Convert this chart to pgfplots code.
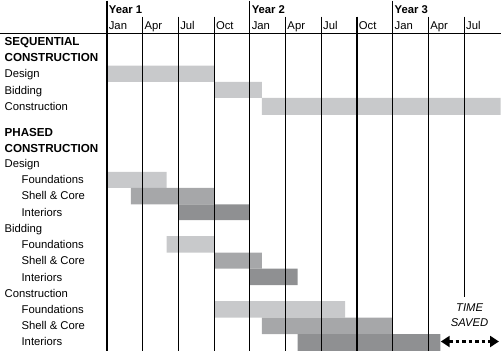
\documentclass[border=0pt]{standalone}
\usepackage{pgfplots}
\pgfplotsset{compat=1.18}
\usepackage{fontspec}
\setmainfont{Liberation Sans}
\usetikzlibrary{arrows.meta}
\definecolor{lightbar}{RGB}{200,201,203}
\definecolor{midbar}{RGB}{166,167,169}
\definecolor{darkbar}{RGB}{143,144,146}
\newcommand{\hd}[1]{{\fontsize{11.65}{13}\selectfont\bfseries #1}}
\begin{document}
\begin{tikzpicture}[every node/.style={font=\fontsize{11.3}{13}\selectfont, inner sep=0pt}]
\begin{axis}[
  scale only axis, width=501pt, height=351pt,
  xmin=-8.944, xmax=33.051, ymin=0, ymax=351, y dir=reverse,
  axis lines=none, ticks=none, clip=false,
]
% ---- bars (x in months from Jan Year 1; y in rows, top down) ----
% Sequential construction
\addplot[fill=lightbar, draw=none] coordinates {(0,65) (9,65) (9,81.5) (0,81.5) (0,65)};
\addplot[fill=lightbar, draw=none] coordinates {(9,81.5) (13,81.5) (13,97.5) (9,97.5) (9,81.5)};
\addplot[fill=lightbar, draw=none] coordinates {(13,97.5) (33.051,97.5) (33.051,114.5) (13,114.5) (13,97.5)};
% Phased: design
\addplot[fill=lightbar, draw=none] coordinates {(0,171.5) (5,171.5) (5,187.5) (0,187.5) (0,171.5)};
\addplot[fill=midbar, draw=none] coordinates {(2,187.5) (9,187.5) (9,204) (2,204) (2,187.5)};
\addplot[fill=darkbar, draw=none] coordinates {(6,204) (12,204) (12,220) (6,220) (6,204)};
% Phased: bidding
\addplot[fill=lightbar, draw=none] coordinates {(5,236) (9,236) (9,252.5) (5,252.5) (5,236)};
\addplot[fill=midbar, draw=none] coordinates {(9,252.5) (13,252.5) (13,268.5) (9,268.5) (9,252.5)};
\addplot[fill=darkbar, draw=none] coordinates {(12,268.5) (16,268.5) (16,285) (12,285) (12,268.5)};
% Phased: construction
\addplot[fill=lightbar, draw=none] coordinates {(9,301) (20,301) (20,317.5) (9,317.5) (9,301)};
\addplot[fill=midbar, draw=none] coordinates {(13,317.5) (24,317.5) (24,334) (13,334) (13,317.5)};
\addplot[fill=darkbar, draw=none] coordinates {(16,334) (28,334) (28,351) (16,351) (16,334)};

% ---- grid lines ----
\draw[line width=0.9pt] (axis cs:-8.944,33.3) -- (axis cs:33.051,33.3);
\pgfplotsinvokeforeach{0,12,24}{\draw[line width=1.25pt] (axis cs:#1,0) -- (axis cs:#1,351);}
\pgfplotsinvokeforeach{3,6,9,15,18,21,27}{\draw[line width=1.25pt] (axis cs:#1,16) -- (axis cs:#1,351);}
\draw[line width=1.25pt] (axis cs:30,16) -- (axis cs:30,297);

% ---- header ----
\node[anchor=base west, xshift=1.7pt] at (axis cs:0,13.3) {\bfseries Year 1};
\node[anchor=base west, xshift=1.7pt] at (axis cs:12,13.3) {\bfseries Year 2};
\node[anchor=base west, xshift=1.7pt] at (axis cs:24,13.3) {\bfseries Year 3};
\node[anchor=base west, xshift=1.7pt] at (axis cs:0,29.3) {Jan};
\node[anchor=base west, xshift=1.7pt] at (axis cs:3,29.3) {Apr};
\node[anchor=base west, xshift=1.7pt] at (axis cs:6,29.3) {Jul};
\node[anchor=base west, xshift=1.7pt] at (axis cs:9,29.3) {Oct};
\node[anchor=base west, xshift=1.7pt] at (axis cs:12,29.3) {Jan};
\node[anchor=base west, xshift=1.7pt] at (axis cs:15,29.3) {Apr};
\node[anchor=base west, xshift=1.7pt] at (axis cs:18,29.3) {Jul};
\node[anchor=base west, xshift=1.7pt] at (axis cs:21,29.3) {Oct};
\node[anchor=base west, xshift=1.7pt] at (axis cs:24,29.3) {Jan};
\node[anchor=base west, xshift=1.7pt] at (axis cs:27,29.3) {Apr};
\node[anchor=base west, xshift=1.7pt] at (axis cs:30,29.3) {Jul};

% ---- row labels ----
\node[anchor=base west, xshift=4pt] at (axis cs:-8.944,45) {\hd{SEQUENTIAL}};
\node[anchor=base west, xshift=4pt] at (axis cs:-8.944,61.2) {\hd{CONSTRUCTION}};
\node[anchor=base west, xshift=4pt] at (axis cs:-8.944,77.2) {Design};
\node[anchor=base west, xshift=4pt] at (axis cs:-8.944,93.6) {Bidding};
\node[anchor=base west, xshift=4pt] at (axis cs:-8.944,110) {Construction};
\node[anchor=base west, xshift=4pt] at (axis cs:-8.944,136) {\hd{PHASED}};
\node[anchor=base west, xshift=4pt] at (axis cs:-8.944,151.7) {\hd{CONSTRUCTION}};
\node[anchor=base west, xshift=4pt] at (axis cs:-8.944,167.3) {Design};
\node[anchor=base west, xshift=21pt] at (axis cs:-8.944,183.3) {Foundations};
\node[anchor=base west, xshift=21pt] at (axis cs:-8.944,199.7) {Shell \& Core};
\node[anchor=base west, xshift=21pt] at (axis cs:-8.944,215.8) {Interiors};
\node[anchor=base west, xshift=4pt] at (axis cs:-8.944,232) {Bidding};
\node[anchor=base west, xshift=21pt] at (axis cs:-8.944,248.3) {Foundations};
\node[anchor=base west, xshift=21pt] at (axis cs:-8.944,264.8) {Shell \& Core};
\node[anchor=base west, xshift=21pt] at (axis cs:-8.944,281) {Interiors};
\node[anchor=base west, xshift=4pt] at (axis cs:-8.944,297) {Construction};
\node[anchor=base west, xshift=21pt] at (axis cs:-8.944,313.3) {Foundations};
\node[anchor=base west, xshift=21pt] at (axis cs:-8.944,329.3) {Shell \& Core};
\node[anchor=base west, xshift=21pt] at (axis cs:-8.944,345.3) {Interiors};

% ---- time saved ----
\node[anchor=base] at (axis cs:30.45,311.7) {\itshape TIME};
\node[anchor=base] at (axis cs:30.45,326.7) {\itshape SAVED};
\draw[line width=2.6pt, dash pattern=on 3.5pt off 3pt, {Triangle[length=9pt,width=11pt]}-{Triangle[length=9pt,width=11pt]}]
  (axis cs:28.03,341.5) -- (axis cs:32.92,341.5);
\end{axis}
\end{tikzpicture}
\end{document}
